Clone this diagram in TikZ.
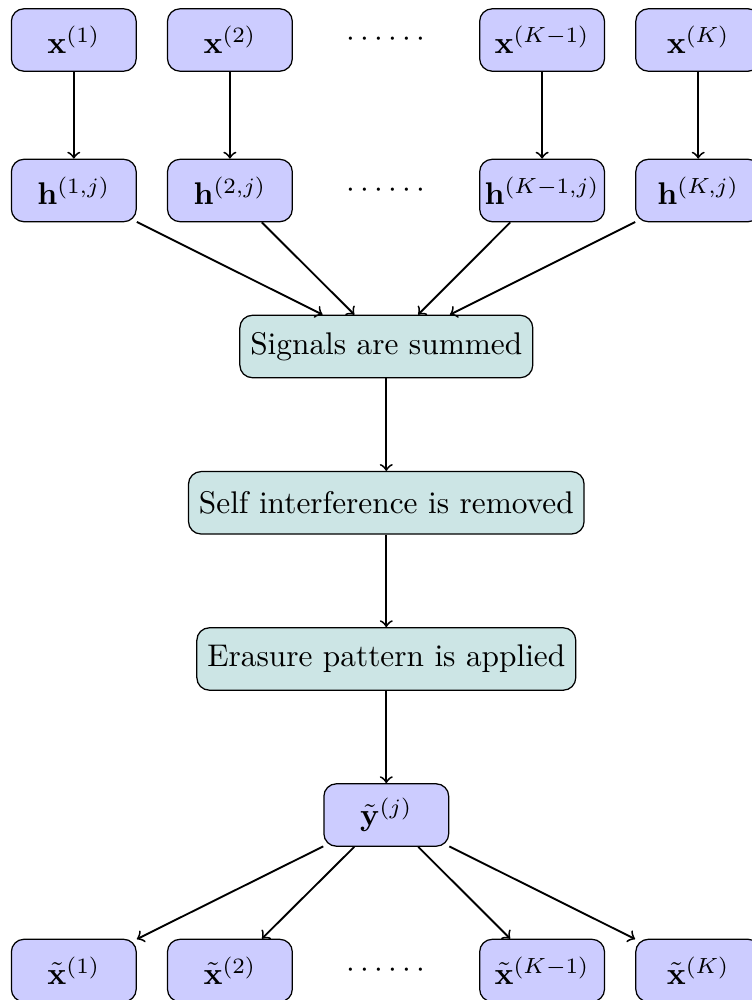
\documentclass[tikz,border=0pt]{standalone}
\begin{document}
\begin{tikzpicture}[x=0.011211cm, y=-0.011211cm,
  sig/.style={draw=black, fill=blue!20, rounded corners, inner xsep=0.5pt, minimum width=1.4cm, minimum height=0.7cm},
  proc/.style={draw=black, fill=teal!20, rounded corners, minimum height=0.7cm},
  gap/.style={inner sep=0pt},
  flow/.style={->, semithick}]
\useasboundingbox (0,0) rectangle (752,1000);

% transmitted signals
\node[sig] (x1) at (73.8,40) {$\mathbf{x}^{(1)}$};
\node[sig] (x2) at (229.9,40) {$\mathbf{x}^{(2)}$};
\node[gap] (xd) at (386,40) {$\cdots\cdots$};
\node[sig] (xk1) at (542.1,40) {$\mathbf{x}^{(K-1)}$};
\node[sig] (xk) at (698.2,40) {$\mathbf{x}^{(K)}$};

% channels
\node[sig] (h1) at (73.8,190.5) {$\mathbf{h}^{(1,j)}$};
\node[sig] (h2) at (229.9,190.5) {$\mathbf{h}^{(2,j)}$};
\node[gap] (hd) at (386,190.5) {$\cdots\cdots$};
\node[sig] (hk1) at (542.1,190.5) {$\mathbf{h}^{(K-1,j)}$};
\node[sig] (hk) at (698.2,190.5) {$\mathbf{h}^{(K,j)}$};

% receiver processing
\node[proc] (sum) at (386.3,346.5) {Signals are summed};
\node[proc] (self) at (386.3,502.8) {Self interference is removed};
\node[proc] (erase) at (386.3,659) {Erasure pattern is applied};
\node[sig] (y) at (386.3,815) {$\tilde{\mathbf{y}}^{(j)}$};

% estimates
\node[sig] (t1) at (73.8,970.5) {$\tilde{\mathbf{x}}^{(1)}$};
\node[sig] (t2) at (229.9,970.5) {$\tilde{\mathbf{x}}^{(2)}$};
\node[gap] (td) at (386,970.5) {$\cdots\cdots$};
\node[sig] (tk1) at (542.1,970.5) {$\tilde{\mathbf{x}}^{(K-1)}$};
\node[sig] (tk) at (698.2,970.5) {$\tilde{\mathbf{x}}^{(K)}$};

% connectors
\draw[flow] (x1) -- (h1);
\draw[flow] (x2) -- (h2);
\draw[flow] (xk1) -- (hk1);
\draw[flow] (xk) -- (hk);
\draw[flow] (h1) -- (sum);
\draw[flow] (h2) -- (sum);
\draw[flow] (hk1) -- (sum);
\draw[flow] (hk) -- (sum);
\draw[flow] (sum) -- (self);
\draw[flow] (self) -- (erase);
\draw[flow] (erase) -- (y);
\draw[flow] (y) -- (t1);
\draw[flow] (y) -- (t2);
\draw[flow] (y) -- (tk1);
\draw[flow] (y) -- (tk);
\end{tikzpicture}
\end{document}
